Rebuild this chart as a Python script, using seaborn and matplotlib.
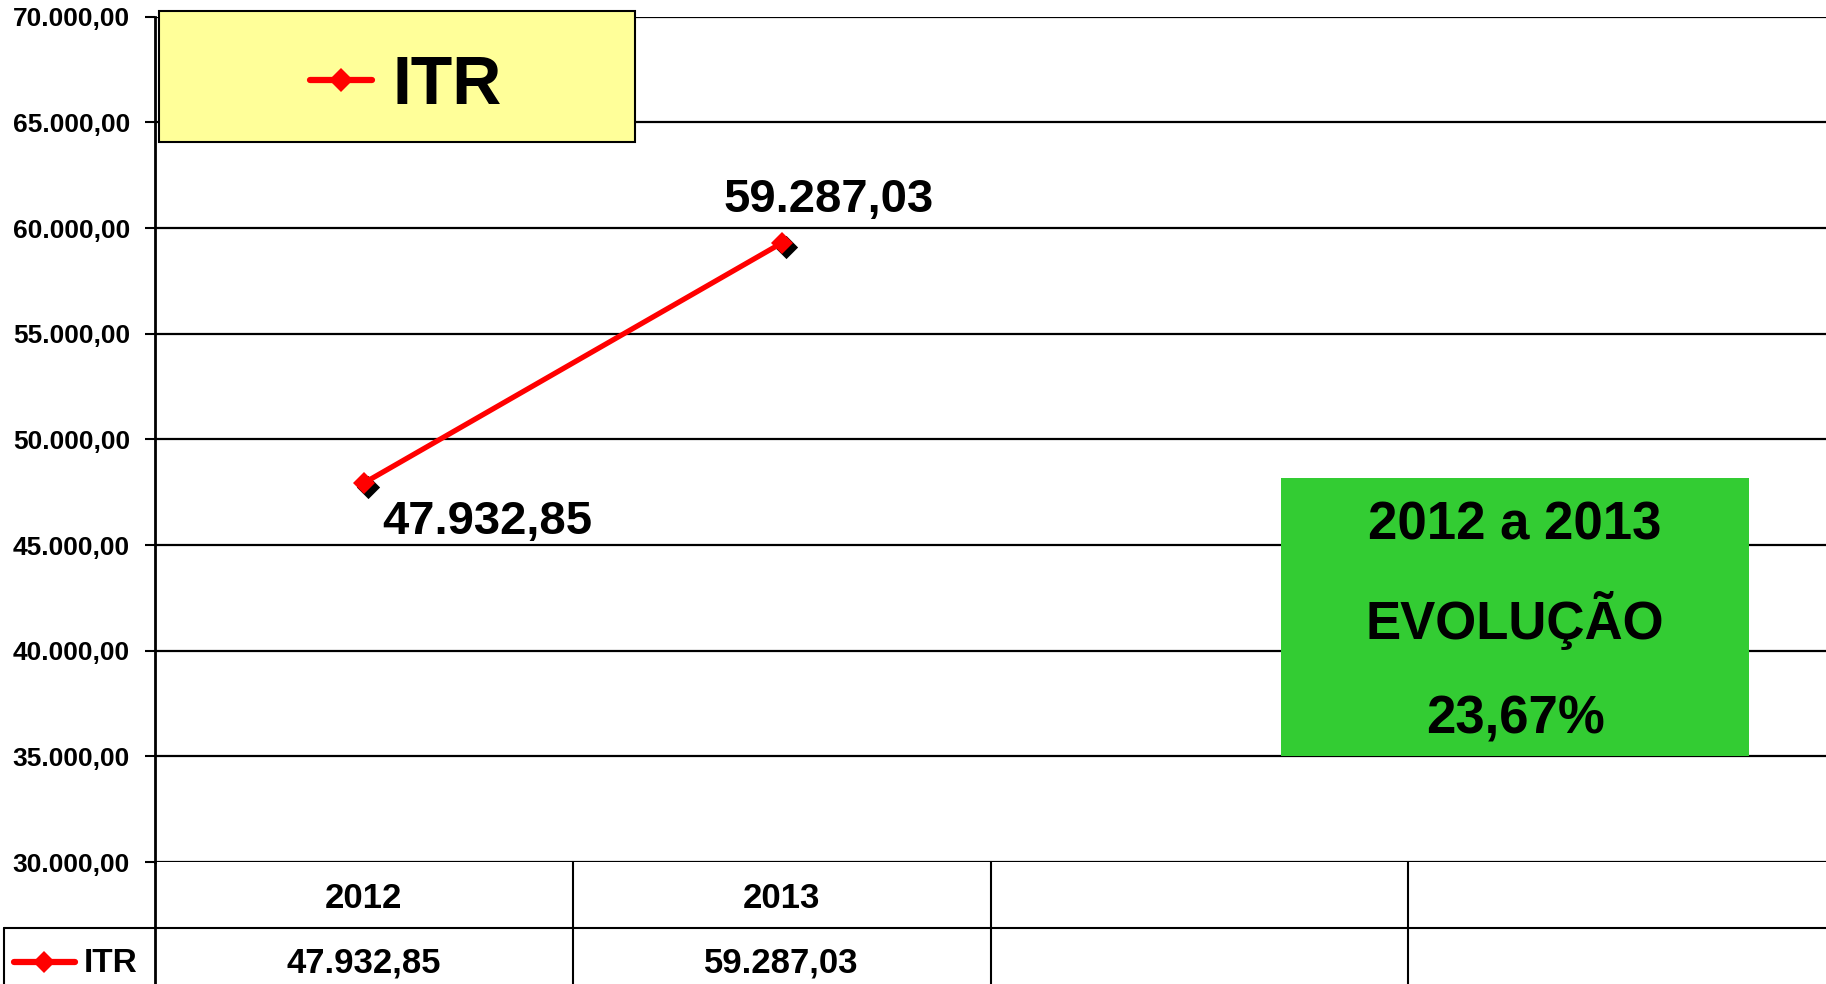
import numpy as np
import pandas as pd
import matplotlib
matplotlib.use("Agg")
import matplotlib.pyplot as plt
import matplotlib.transforms as mtransforms
from matplotlib.lines import Line2D
from matplotlib.patches import Rectangle
import seaborn as sns

# data
anos = ["2012", "2013"]
colunas_tabela = ["2012", "2013", "", ""]
itr = [47932.85, 59287.03]
serie = "ITR"
caixa_linhas = ["2012 a 2013", "EVOLUÇÃO", "23,67%"]
y_ticks = [30000, 35000, 40000, 45000, 50000, 55000, 60000, 65000, 70000]


def br(v):
    s = f"{v:,.2f}"
    return s.replace(",", "X").replace(".", ",").replace("X", ".")


sns.set_style("white")
plt.rcParams["font.family"] = ["Liberation Sans", "DejaVu Sans"]
plt.rcParams["font.weight"] = "bold"
plt.rcParams["text.color"] = "black"
plt.rcParams["ytick.color"] = "black"
plt.rcParams["ytick.labelcolor"] = "black"

W, H = 1826, 984
fig = plt.figure(figsize=(W / 100, H / 100), dpi=100)
ax = fig.add_axes([155 / W, 1 - 862 / H, (W - 155) / W, (862 - 16.7) / H])


def fx(px):
    return px / W


def fy(py):
    return 1 - py / H


df = pd.DataFrame({"ano": anos, "valor": itr})

# black shadow under the markers
shadow = mtransforms.offset_copy(ax.transData, fig=fig, x=4, y=-4, units="dots")
ax.scatter([0, 1], df["valor"], marker="D", s=140, color="black",
           transform=shadow, zorder=3, linewidths=0)

sns.lineplot(data=df, x="ano", y="valor", ax=ax, color="#FF0000",
             linewidth=3.8, marker="D", markersize=11.5, markeredgewidth=0,
             zorder=4, legend=False)

ax.set_xlim(-0.5, len(colunas_tabela) - 0.5)
ax.set_ylim(30000, 70000)
ax.set_yticks(y_ticks)
ax.set_yticklabels([br(t) for t in y_ticks], fontsize=19, fontweight="bold",
                   color="black")
ax.set_xticks([])
ax.set_xlabel("")
ax.set_ylabel("")
ax.yaxis.grid(True, color="black", linewidth=1.6)
ax.tick_params(axis="y", direction="out", length=7, width=1.5, pad=11,
               left=True, colors="black")
for s in ["top", "right", "bottom"]:
    ax.spines[s].set_visible(False)
ax.spines["left"].set_color("black")
ax.spines["left"].set_linewidth(2)

# data labels
ax.annotate(br(itr[0]), (0, itr[0]), xytext=(89, -28), textcoords="offset points",
            ha="center", va="center", fontsize=34, fontweight="bold", color="black")
ax.annotate(br(itr[1]), (1, itr[1]), xytext=(34, 31), textcoords="offset points",
            ha="center", va="center", fontsize=34, fontweight="bold", color="black")

# legend box (top left)
fig.add_artist(Rectangle((fx(159), fy(142)), fx(635) - fx(159), fy(11) - fy(142),
                         transform=fig.transFigure, facecolor="#FFFF99",
                         edgecolor="black", linewidth=1.5, zorder=5))
handle = Line2D([], [], color="#FF0000", linewidth=4.5, marker="D", markersize=12,
                markeredgewidth=0)
leg = fig.legend([handle], [serie], loc="center",
                 bbox_to_anchor=(fx(406), fy(86)),
                 frameon=False, prop={"size": 49, "weight": "bold"},
                 handlelength=0.9, handletextpad=0.3)
leg.set_zorder(6)
for t in leg.get_texts():
    t.set_color("black")

# green evolution box
fig.add_artist(Rectangle((fx(1281), fy(756)), fx(1749) - fx(1281), fy(478) - fy(756),
                         transform=fig.transFigure, facecolor="#33CC33",
                         edgecolor="none", zorder=5))
for linha, py in zip(caixa_linhas, [526, 621, 719]):
    fig.text(fx(1515), fy(py), linha, ha="center", va="center", fontsize=38,
             fontweight="bold", color="black", zorder=6)

# data table below the plot
tr = mtransforms.blended_transform_factory(ax.transData, fig.transFigure)
y_top, y_mid, y_bot = fy(862), fy(928), fy(984)
fig.add_artist(Line2D([fx(155), fx(155)], [y_top, y_bot], color="black", linewidth=2))
fig.add_artist(Line2D([fx(3.5), 1], [y_mid, y_mid], color="black", linewidth=1.5))
fig.add_artist(Line2D([fx(3.5), fx(3.5)], [y_mid, y_bot], color="black", linewidth=1.5))
for i in range(len(colunas_tabela) - 1):
    ax.add_line(Line2D([i + 0.5, i + 0.5], [y_top, y_bot], transform=tr,
                       color="black", linewidth=1.5, clip_on=False))
for i, c in enumerate(colunas_tabela):
    ax.text(i, fy(899), c, transform=tr, ha="center", va="center",
            fontsize=25, fontweight="bold", color="black")
for i, v in enumerate(itr):
    ax.text(i, fy(963), br(v), transform=tr, ha="center", va="center",
            fontsize=25, fontweight="bold", color="black")
fig.add_artist(Line2D([fx(14), fx(75)], [fy(962), fy(962)], color="#FF0000",
                      linewidth=4.5))
fig.add_artist(Line2D([fx(44)], [fy(962)], color="#FF0000", marker="D",
                      markersize=11, markeredgewidth=0, linestyle="none"))
fig.text(fx(84), fy(964), serie, ha="left", va="center", fontsize=24,
         fontweight="bold", color="black")

fig.savefig("out.png", dpi=100)
